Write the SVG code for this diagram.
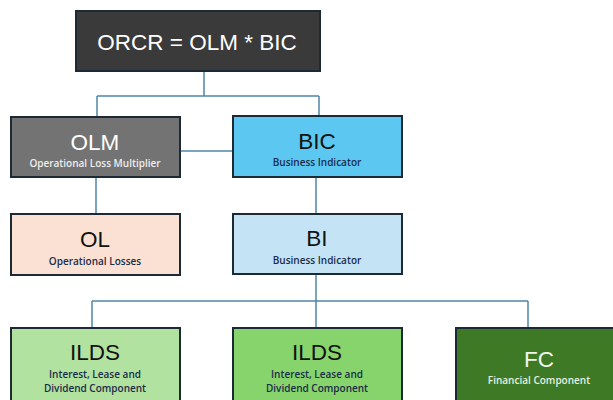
<svg xmlns="http://www.w3.org/2000/svg" width="613" height="400" viewBox="0 0 613 400">
<style>
.box{stroke:#1c2a36;stroke-width:2}
.t{font-family:"Liberation Sans",Arial,sans-serif;text-anchor:middle}
.big{font-size:22.5px}
.sub{font-family:"Open Sans","Liberation Sans",Arial,sans-serif;font-size:10px;font-weight:600}
.conn{fill:none;stroke:#4e86a6;stroke-width:1.5}
</style>
<rect width="613" height="400" fill="#ffffff"/>
<g id="connectors" class="conn">
<path d="M204 71V96M97 96H319M97 96V117M319 96V116"/>
<path d="M181 151H233"/>
<path d="M96 178V214M316 177V214"/>
<path d="M316 274V301M92 301H528M92 301V328M316 301V328M528 301V328"/>
</g>
<g id="orcr">
<rect class="box" x="76" y="11" width="244" height="60" fill="#3a3a3a"/>
<text class="t" x="197" y="50" font-size="22.5" fill="#ffffff">ORCR = OLM * BIC</text>
</g>
<g id="olm">
<rect class="box" x="11" y="117" width="169" height="60" fill="#737373"/>
<text class="t big" x="95" y="150" fill="#ffffff">OLM</text>
<text class="t sub" x="95" y="167" fill="#eeeeee">Operational Loss Multiplier</text>
</g>
<g id="bic">
<rect class="box" x="233" y="116" width="169" height="61" fill="#5cc7f1"/>
<text class="t big" x="317" y="149" fill="#111111">BIC</text>
<text class="t sub" x="317" y="166" fill="#1a2c4a">Business Indicator</text>
</g>
<g id="ol">
<rect class="box" x="11" y="214" width="169" height="61" fill="#fbe1d3"/>
<text class="t big" x="95" y="247" fill="#111111">OL</text>
<text class="t sub" x="95" y="265" fill="#1a2c4a">Operational Losses</text>
</g>
<g id="bi">
<rect class="box" x="233" y="214" width="169" height="60" fill="#c4e4f6"/>
<text class="t big" x="317" y="246" fill="#111111">BI</text>
<text class="t sub" x="317" y="264" fill="#1a2c4a">Business Indicator</text>
</g>
<g id="ilds1">
<rect class="box" x="11" y="328" width="169" height="80" fill="#b2e2a0"/>
<text class="t big" x="95" y="360" fill="#111111">ILDS</text>
<text class="t sub" x="95" y="378" fill="#1a2c4a">Interest, Lease and</text>
<text class="t sub" x="95" y="392" fill="#1a2c4a">Dividend Component</text>
</g>
<g id="ilds2">
<rect class="box" x="233" y="328" width="169" height="80" fill="#87d46c"/>
<text class="t big" x="317" y="360" fill="#111111">ILDS</text>
<text class="t sub" x="317" y="378" fill="#1a2c4a">Interest, Lease and</text>
<text class="t sub" x="317" y="392" fill="#1a2c4a">Dividend Component</text>
</g>
<g id="fc">
<rect class="box" x="456" y="328" width="170" height="80" fill="#3e7a25"/>
<text class="t big" x="539" y="367" fill="#f2f6ee">FC</text>
<text class="t sub" x="539" y="384" fill="#e6efe0">Financial Component</text>
</g>
</svg>
